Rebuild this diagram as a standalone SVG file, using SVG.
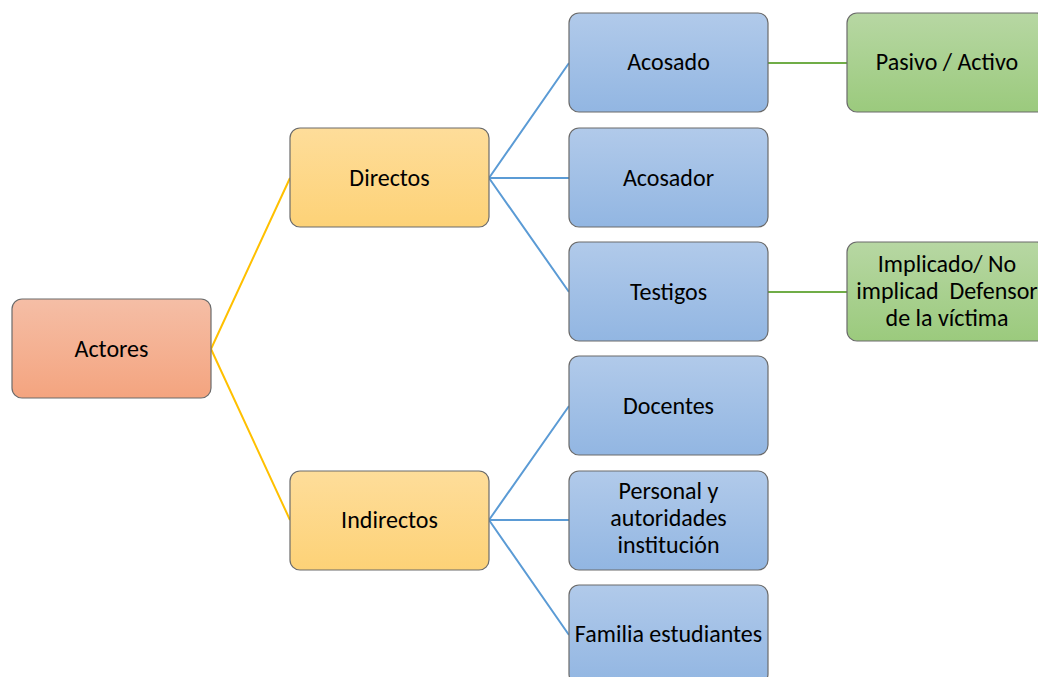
<svg xmlns="http://www.w3.org/2000/svg" width="1038" height="677" viewBox="0 0 1038 677">
<defs>
<linearGradient id="gOr" x1="0" y1="0" x2="0" y2="1"><stop offset="0" stop-color="#F5BEA6"/><stop offset="1" stop-color="#F4A47F"/></linearGradient>
<linearGradient id="gYe" x1="0" y1="0" x2="0" y2="1"><stop offset="0" stop-color="#FEDD9A"/><stop offset="1" stop-color="#FDD277"/></linearGradient>
<linearGradient id="gBl" x1="0" y1="0" x2="0" y2="1"><stop offset="0" stop-color="#B1CAEA"/><stop offset="1" stop-color="#92B6E2"/></linearGradient>
<linearGradient id="gGr" x1="0" y1="0" x2="0" y2="1"><stop offset="0" stop-color="#B7D7A3"/><stop offset="1" stop-color="#9BCA7D"/></linearGradient>
<style>
rect{stroke:#6B6B6B;stroke-width:1.2}
.or{fill:url(#gOr)}.ye{fill:url(#gYe)}.bl{fill:url(#gBl)}.gr{fill:url(#gGr)}
text{font-family:Carlito,Calibri,"Liberation Sans",sans-serif;font-size:24px;fill:#000;text-anchor:middle}
.cy{stroke:#FFC000;stroke-width:2;fill:none}
.cb{stroke:#5B9BD5;stroke-width:2;fill:none}
.cg{stroke:#70AD47;stroke-width:2;fill:none}
</style>
</defs>
<rect width="1038" height="677" fill="#fff" style="stroke:none"/>
<g id="connectors">
<path class="cy" d="M211 349 L290 178 M211 349 L290 520"/>
<path class="cb" d="M489 178 L569 63 M489 178 L569 178 M489 178 L569 292"/>
<path class="cb" d="M489 520 L569 406 M489 520 L569 520 M489 520 L569 635"/>
<path class="cg" d="M768 63 L847 63 M768 292 L847 292"/>
</g>
<g id="actores"><rect class="or" x="12" y="299" width="199" height="99" rx="10"/><text x="111.5" y="357">Actores</text></g>
<g id="directos"><rect class="ye" x="290" y="128" width="199" height="99" rx="10"/><text x="389.5" y="186">Directos</text></g>
<g id="indirectos"><rect class="ye" x="290" y="471" width="199" height="99" rx="10"/><text x="389.5" y="528">Indirectos</text></g>
<g id="acosado"><rect class="bl" x="569" y="13" width="199" height="99" rx="10"/><text x="668.5" y="70">Acosado</text></g>
<g id="acosador"><rect class="bl" x="569" y="128" width="199" height="99" rx="10"/><text x="668.5" y="186">Acosador</text></g>
<g id="testigos"><rect class="bl" x="569" y="242" width="199" height="99" rx="10"/><text x="668.5" y="300">Testigos</text></g>
<g id="docentes"><rect class="bl" x="569" y="356" width="199" height="99" rx="10"/><text x="668.5" y="414">Docentes</text></g>
<g id="personal"><rect class="bl" x="569" y="471" width="199" height="99" rx="10"/><text x="668.5" y="499">Personal y</text><text x="668.5" y="526">autoridades</text><text x="668.5" y="553">institución</text></g>
<g id="familia"><rect class="bl" x="569" y="585" width="199" height="99" rx="10"/><text x="668.5" y="642">Familia estudiantes</text></g>
<g id="pasivo"><rect class="gr" x="847" y="13" width="200" height="99" rx="10"/><text x="947" y="70">Pasivo / Activo</text></g>
<g id="implicado"><rect class="gr" x="847" y="242" width="200" height="99" rx="10"/><text x="947" y="272">Implicado/ No</text><text x="947" y="299" xml:space="preserve">implicad  Defensor</text><text x="947" y="326">de la víctima</text></g>
</svg>
